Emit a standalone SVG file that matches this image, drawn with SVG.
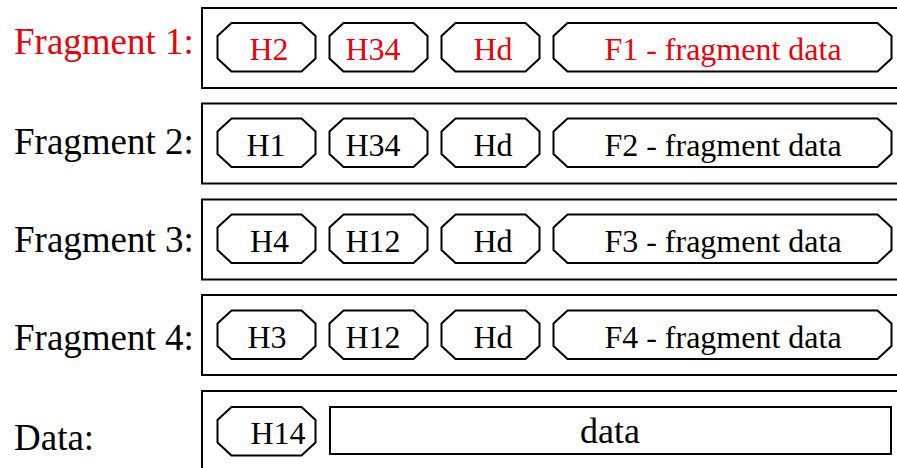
<svg xmlns="http://www.w3.org/2000/svg" xmlns:xlink="http://www.w3.org/1999/xlink" width="897" height="468" viewBox="0 0 897 468">
  <style>
    .frame { fill: #fff; stroke: #000; stroke-width: 2; }
    .oct { fill: #fff; stroke: #000; stroke-width: 2; stroke-linejoin: miter; }
    .lbl { font-family: "Liberation Serif", "Times New Roman", serif; font-size: 37px; fill: #000; }
    .cell { font-family: "Liberation Serif", "Times New Roman", serif; font-size: 32px; fill: #000; text-anchor: middle; }
    .big { font-size: 36px; }
    .red { fill: #e8000b; }
  </style>
  <defs>
    <!-- header cells: small octagon 98 wide, 48.5 tall -->
    <path id="hdr" class="oct" d="M14,0 H84 L98,13 V35.5 L84,48.5 H14 L0,35.5 V13 Z"/>
    <!-- payload cell: wide octagon -->
    <path id="pay" class="oct" d="M14,0 H324 L338,13 V35.5 L324,48.5 H14 L0,35.5 V13 Z"/>
  </defs>
  <rect width="897" height="468" fill="#fff"/>

  <g id="fragment1">
    <text class="lbl red" x="14" y="53.5">Fragment 1:</text>
    <rect class="frame" x="202" y="8" width="720" height="80"/>
    <use xlink:href="#hdr" x="217.5" y="23"/>
    <use xlink:href="#hdr" x="329.5" y="23"/>
    <use xlink:href="#hdr" x="441.5" y="23"/>
    <use xlink:href="#pay" x="553.5" y="23"/>
    <text class="cell red" x="269" y="60">H2</text>
    <text class="cell red" x="373" y="60">H34</text>
    <text class="cell red" x="493" y="60">Hd</text>
    <text class="cell red" x="723" y="60">F1 - fragment data</text>
  </g>

  <g id="fragment2">
    <text class="lbl" x="14" y="153.5">Fragment 2:</text>
    <rect class="frame" x="202" y="103.5" width="720" height="80"/>
    <use xlink:href="#hdr" x="217.5" y="118.5"/>
    <use xlink:href="#hdr" x="329.5" y="118.5"/>
    <use xlink:href="#hdr" x="441.5" y="118.5"/>
    <use xlink:href="#pay" x="553.5" y="118.5"/>
    <text class="cell" x="266" y="155.5">H1</text>
    <text class="cell" x="373" y="155.5">H34</text>
    <text class="cell" x="493" y="155.5">Hd</text>
    <text class="cell" x="723" y="155.5">F2 - fragment data</text>
  </g>

  <g id="fragment3">
    <text class="lbl" x="14" y="252">Fragment 3:</text>
    <rect class="frame" x="202" y="199.5" width="720" height="80"/>
    <use xlink:href="#hdr" x="217.5" y="214.5"/>
    <use xlink:href="#hdr" x="329.5" y="214.5"/>
    <use xlink:href="#hdr" x="441.5" y="214.5"/>
    <use xlink:href="#pay" x="553.5" y="214.5"/>
    <text class="cell" x="269.5" y="251.5">H4</text>
    <text class="cell" x="373" y="251.5">H12</text>
    <text class="cell" x="493" y="251.5">Hd</text>
    <text class="cell" x="723" y="251.5">F3 - fragment data</text>
  </g>

  <g id="fragment4">
    <text class="lbl" x="14" y="350">Fragment 4:</text>
    <rect class="frame" x="202" y="295" width="720" height="80"/>
    <use xlink:href="#hdr" x="217.5" y="310.5"/>
    <use xlink:href="#hdr" x="329.5" y="310.5"/>
    <use xlink:href="#hdr" x="441.5" y="310.5"/>
    <use xlink:href="#pay" x="553.5" y="310.5"/>
    <text class="cell" x="267" y="347.5">H3</text>
    <text class="cell" x="373" y="347.5">H12</text>
    <text class="cell" x="493" y="347.5">Hd</text>
    <text class="cell" x="723" y="347.5">F4 - fragment data</text>
  </g>

  <g id="data">
    <text class="lbl" x="14" y="450">Data:</text>
    <rect class="frame" x="202" y="391" width="720" height="80"/>
    <use xlink:href="#hdr" x="217.5" y="407"/>
    <rect class="frame" x="330" y="407" width="561" height="47"/>
    <text class="cell" x="278" y="444">H14</text>
    <text class="cell big" x="610" y="443">data</text>
  </g>

  <g id="connectors"/>
</svg>
